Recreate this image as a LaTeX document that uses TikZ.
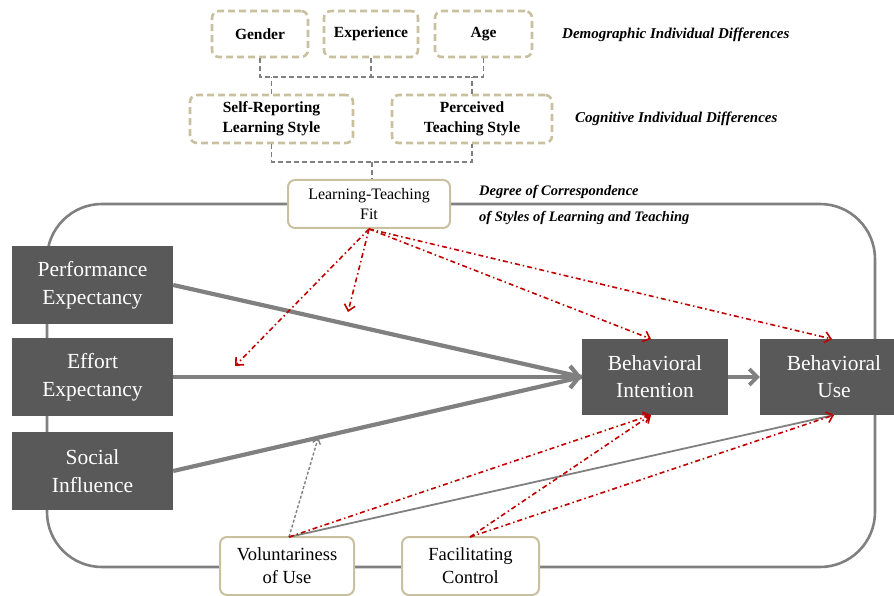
\documentclass[tikz,border=0pt]{standalone}
\usepackage{fontspec}
\setmainfont{Liberation Serif}
\usetikzlibrary{arrows.meta}
\definecolor{tanc}{HTML}{C9C0A0}
\definecolor{darkc}{HTML}{595959}
\definecolor{grayc}{HTML}{808080}
\definecolor{redc}{HTML}{C00000}
\tikzset{
  tanbox/.style={draw=tanc, line width=2.6pt, dash pattern=on 7pt off 4pt, rounded corners=7pt, fill=white, align=center, inner sep=0pt, font=\bfseries\fontsize{15.5}{20}\selectfont},
  fitbox/.style={draw=tanc, line width=2pt, rounded corners=7pt, fill=white, align=center, inner sep=0pt},
  darkbox/.style={fill=darkc, text=white, align=center, inner sep=0pt, font=\fontsize{21.5}{28}\selectfont},
  frameline/.style={draw=grayc, line width=2.6pt, rounded corners=55pt},
  dconn/.style={draw=grayc, line width=1.6pt, dash pattern=on 5pt off 3pt},
  thickarr/.style={draw=grayc, line width=4.2pt},
  redarr/.style={draw=redc, line width=1.6pt, dash pattern=on 5pt off 3pt on 1.5pt off 3pt, -{Straight Barb[length=6pt,width=11pt]}},
  lbl/.style={font=\bfseries\itshape\fontsize{15}{26}\selectfont, anchor=west, align=left, inner sep=0pt},
}
\begin{document}
\begin{tikzpicture}[x=1pt,y=-1pt]
\useasboundingbox (0,0) rectangle (894,596);
% outer frame
\draw[frameline] (47,204) rectangle (875,567);
% demographic boxes
\node[tanbox, minimum width=96pt, minimum height=46pt] (gender) at (260,34) {Gender};
\node[tanbox, minimum width=94pt, minimum height=46pt] (exper) at (371,34) {Experience};
\node[tanbox, minimum width=97pt, minimum height=46pt] (age) at (483.5,34) {Age};
% cognitive boxes
\node[tanbox, minimum width=163pt, minimum height=48pt] (selfrep) at (271.5,119) {Self-Reporting\\Learning Style};
\node[tanbox, minimum width=160pt, minimum height=48pt] (perc) at (472,119) {Perceived\\Teaching Style};
% fit box
\node[fitbox, minimum width=162pt, minimum height=48pt, font=\fontsize{16}{19.5}\selectfont] (ltf) at (369,204) {Learning-Teaching\\Fit};
% labels
\node[lbl] (demolbl) at (562,35) {Demographic Individual Differences};
\node[lbl] (coglbl) at (575,119) {Cognitive Individual Differences};
\node[lbl, font=\bfseries\itshape\fontsize{14.5}{26}\selectfont] (deglbl) at (479,205) {Degree of Correspondence\\of Styles of Learning and Teaching};
% connectors top
\coordinate (j1) at (372,77);
\coordinate (j2) at (372,162);
\draw[dconn] (gender.south) |- (j1) -| (age.south);
\draw[dconn] (exper.south) -- (exper.south |- j1);
\draw[dconn] (selfrep.north) -- (selfrep.north |- j1);
\draw[dconn] (perc.north) -- (perc.north |- j1);
\draw[dconn] (selfrep.south) |- (j2) -| (perc.south);
\draw[dconn] (j2) -- (j2 |- ltf.north);
% dark boxes
\node[darkbox, minimum width=161pt, minimum height=78pt] (perf) at (92.5,285) {Performance\\Expectancy};
\node[darkbox, minimum width=161pt, minimum height=78pt] (effort) at (92.5,377) {Effort\\Expectancy};
\node[darkbox, minimum width=161pt, minimum height=78pt] (social) at (92.5,471) {Social\\Influence};
\node[darkbox, minimum width=146pt, minimum height=76pt, font=\fontsize{21.5}{27}\selectfont] (bi) at (655,377) {Behavioral\\Intention};
\node[darkbox, minimum width=148pt, minimum height=76pt, font=\fontsize{21.5}{27}\selectfont] (bu) at (834,377) {Behavioral\\Use};
% moderators
\node[fitbox, minimum width=134pt, minimum height=58pt, font=\fontsize{18.5}{23}\selectfont] (vol) at (287,566) {Voluntariness\\of Use};
\node[fitbox, minimum width=137pt, minimum height=58pt, font=\fontsize{18.5}{23}\selectfont] (fac) at (470.5,566) {Facilitating\\Control};
% main arrows
\draw[thickarr] (perf.east |- 0,285) -- (bi.west);
\draw[thickarr] (social.east |- 0,471) -- (bi.west);
\draw[thickarr, -{Straight Barb[length=9pt,width=22pt]}] (effort.east) -- (bi.west);
\draw[draw=grayc, line width=3.6pt, -{Straight Barb[length=8pt,width=16pt]}] (bi.east) -- (bu.west |- bi.east);
% red arrows from fit
\coordinate (r1) at (235,366);
\coordinate (r2) at (348,312);
\coordinate (bitop) at (651,339);
\coordinate (butop) at (832,339);
\coordinate (bibot) at (651,415);
\coordinate (bubot) at (834,415);
\draw[redarr] (ltf.south) -- (r1);
\draw[redarr] (ltf.south) -- (r2);
\draw[redarr] (ltf.south) -- (bitop);
\draw[redarr] (ltf.south) -- (butop);
% moderator arrows
\path (social.east |- 0,471) -- (bi.west) coordinate[pos=0.355] (m1);
\coordinate (volt) at (289,537);
\coordinate (fact) at (470,537);
\draw[draw=grayc, line width=1.4pt, dash pattern=on 3pt off 2pt, -{Straight Barb[length=5pt,width=8pt]}] (volt) -- (m1);
\draw[draw=grayc, line width=1.8pt] (volt) -- (bubot);
\draw[redarr] (volt) -- (bibot);
\draw[redarr] (fact) -- (bibot);
\draw[redarr] (fact) -- (bubot);
\end{tikzpicture}
\end{document}
